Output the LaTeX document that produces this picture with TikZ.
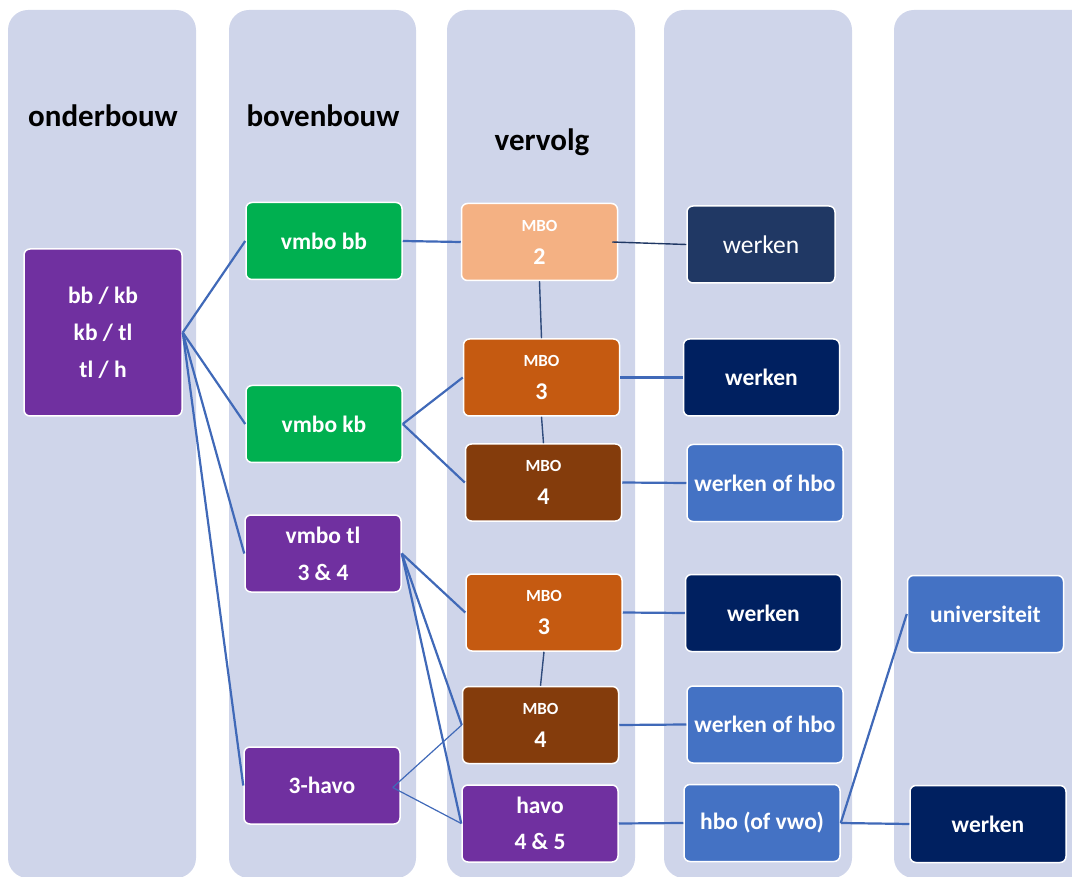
\documentclass[tikz,border=0pt]{standalone}
\usepackage{fontspec}
\setmainfont{Carlito}
\usetikzlibrary{calc}

\definecolor{lane}{HTML}{CFD5EA}
\definecolor{paars}{HTML}{7030A0}
\definecolor{groen}{HTML}{00B050}
\definecolor{perzik}{HTML}{F4B183}
\definecolor{oranje}{HTML}{C55A11}
\definecolor{bruin}{HTML}{843C0C}
\definecolor{navy}{HTML}{002060}
\definecolor{navylicht}{HTML}{203864}
\definecolor{blauw}{HTML}{4472C4}
\definecolor{lijn}{HTML}{4069B8}
\definecolor{lijndonker}{HTML}{2F4B7C}

\tikzset{%
  blok/.style={rectangle, rounded corners=6pt, draw=white, line width=1.5pt,
    text=white, align=center, inner sep=0pt,
    minimum width=156pt, minimum height=77pt,
    font=\fontsize{23.5}{37}\selectfont\bfseries},%
  mboblok/.style={blok, font=\fontsize{24}{33}\selectfont\bfseries},%
  kop/.style={anchor=base, font=\fontsize{31}{37}\selectfont\bfseries},%
  verbind/.style={draw=lijn, line width=2.2pt},%
  dun/.style={draw=lijndonker, line width=1.4pt},%
  fijn/.style={draw=lijn, line width=1.2pt}%
}

\newcommand{\mbo}[1]{{\fontsize{17}{17}\selectfont MBO}\\#1}

\begin{document}
\begin{tikzpicture}[x=1pt, y=-1pt]
  \useasboundingbox (0,0) rectangle (1072,877);
  \clip (0,0) rectangle (1072,877);

  % banen
  \foreach \xa/\xb in {8/196, 229/416, 447/635, 664/852, 894/1100}
    \fill[lane, rounded corners=20pt] (\xa,10) rectangle (\xb,878);

  \node[kop] (kopOnder) at (103,127) {onderbouw};
  \node[kop] (kopBoven) at (323,127) {bovenbouw};
  \node[kop] (kopVervolg) at (542,151) {vervolg};

  % onderbouw en bovenbouw
  \node[blok, fill=paars, minimum width=158pt, minimum height=167pt] (onder) at (103,332.5) {bb / kb\\kb / tl\\tl / h};

  \node[blok, fill=groen] (vmbobb) at (324,241) {vmbo bb};
  \node[blok, fill=groen] (vmbokb) at (324,424) {vmbo kb};
  \node[blok, fill=paars] (vmbotl) at (323,553.5) {vmbo tl\\3 \& 4};
  \node[blok, fill=paars] (havodrie) at (322,785.5) {3-havo};

  % vervolg
  \node[mboblok, fill=perzik] (mbotwee) at (539.5,242) {\mbo{2}};
  \node[mboblok, fill=oranje] (mbodrieA) at (541.5,377.5) {\mbo{3}};
  \node[mboblok, fill=bruin] (mbovierA) at (543.5,482.5) {\mbo{4}};
  \node[mboblok, fill=oranje] (mbodrieB) at (544,612.5) {\mbo{3}};
  \node[mboblok, fill=bruin] (mbovierB) at (540.5,725) {\mbo{4}};
  \node[blok, fill=paars, font=\fontsize{23.5}{36}\selectfont\bfseries] (havovijf) at (540,823.5) {havo\\4 \& 5};

  % werk en verder
  \node[blok, fill=navylicht, minimum width=148pt, font=\fontsize{25.5}{30}\selectfont] (werkenA) at (761,244.5) {werken};
  \node[blok, fill=navy] (werkenB) at (761.5,377.5) {werken};
  \node[blok, fill=blauw] (werkhboA) at (765,483) {werken of hbo};
  \node[blok, fill=navy] (werkenC) at (763.5,613) {werken};
  \node[blok, fill=blauw] (werkhboB) at (765,724.5) {werken of hbo};
  \node[blok, fill=blauw] (hbo) at (762,823) {hbo (of vwo)};
  \node[blok, fill=blauw] (uni) at (985.5,614) {universiteit};
  \node[blok, fill=navy] (werkenD) at (988,824) {werken};

  \coordinate (havodrieIn) at ($(havodrie.east)+(-8,2)$);

  % verbindingen
  \foreach \doel in {vmbobb, vmbokb, vmbotl, havodrie}
    \draw[verbind] (onder.east) -- (\doel.west);

  \draw[verbind] (vmbobb.east) -- (mbotwee.west);
  \draw[verbind] (vmbokb.east) -- (mbodrieA.west);
  \draw[verbind] (vmbokb.east) -- (mbovierA.west);
  \draw[verbind] (vmbotl.east) -- (mbodrieB.west);
  \draw[verbind] (vmbotl.east) -- (mbovierB.west);
  \draw[verbind] (vmbotl.east) -- (havovijf.west);
  \draw[fijn] (havodrieIn) -- (mbovierB.west);
  \draw[fijn] (havodrieIn) -- (havovijf.west);

  \draw[dun] (mbotwee.south) -- (mbodrieA.north);
  \draw[dun] (mbodrieA.south) -- (mbovierA.north);
  \draw[dun] (mbodrieB.south) -- (mbovierB.north);
  \draw[dun, draw=navylicht] ($(mbotwee.east)+(-6,0)$) -- (werkenA.west);

  \draw[verbind] (mbodrieA.east) -- (werkenB.west);
  \draw[verbind] (mbovierA.east) -- (werkhboA.west);
  \draw[verbind] (mbodrieB.east) -- (werkenC.west);
  \draw[verbind] (mbovierB.east) -- (werkhboB.west);
  \draw[verbind] (havovijf.east) -- (hbo.west);
  \draw[verbind] (hbo.east) -- (uni.west);
  \draw[verbind] (hbo.east) -- (werkenD.west);

\end{tikzpicture}
\end{document}
